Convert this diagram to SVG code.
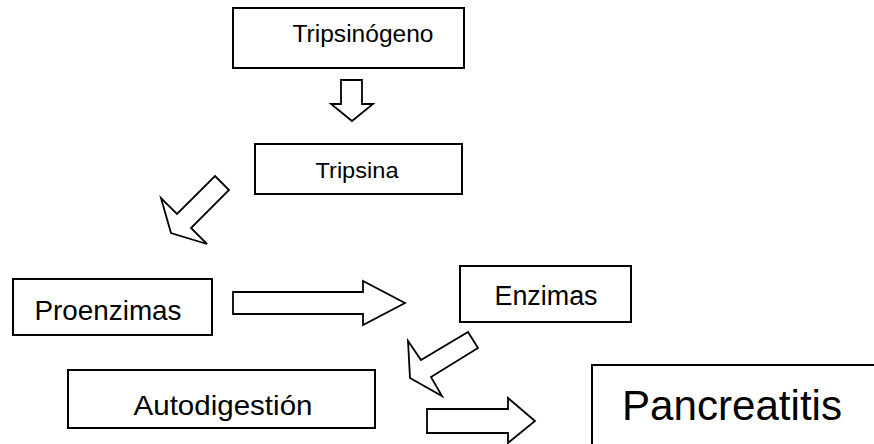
<svg xmlns="http://www.w3.org/2000/svg" width="874" height="444" viewBox="0 0 874 444">
<style>
.box{fill:#fff;stroke:#000;stroke-width:2}
.arr{fill:#fff;stroke:#000;stroke-width:1.8;stroke-linejoin:miter}
text{font-family:"Liberation Sans",Arial,sans-serif;fill:#000;text-anchor:middle}
</style>
<rect width="874" height="444" fill="#fff"/>
<g id="connectors">
<polygon class="arr" points="341,80 362,80 362,104 373,104 352,121 331,104 341,104"/>
<polygon class="arr" points="215,176 229,190 191,228 207,244 171,233 161,198 177,214"/>
<polygon class="arr" points="233,292 363,292 363,281 405,303 363,325 363,314 233,314"/>
<polygon class="arr" points="468,332 478,348 431,377 442,396 410,378 408,341 421,360"/>
<polygon class="arr" points="427,409 508,409 508,398 535,421 508,443 508,433 427,433"/>
</g>
<g id="tripsinogeno">
<rect class="box" x="233" y="8" width="231" height="60"/>
<text x="363" y="42" font-size="23" textLength="141" lengthAdjust="spacingAndGlyphs">Tripsinógeno</text>
</g>
<g id="tripsina">
<rect class="box" x="255" y="144" width="207" height="50"/>
<text x="357" y="178" font-size="22" textLength="83" lengthAdjust="spacingAndGlyphs">Tripsina</text>
</g>
<g id="proenzimas">
<rect class="box" x="13" y="279" width="199" height="56"/>
<text x="108" y="320" font-size="28" textLength="147" lengthAdjust="spacingAndGlyphs">Proenzimas</text>
</g>
<g id="enzimas">
<rect class="box" x="460" y="266" width="171" height="56"/>
<text x="546" y="305" font-size="27" textLength="103" lengthAdjust="spacingAndGlyphs">Enzimas</text>
</g>
<g id="autodigestion">
<rect class="box" x="68" y="370" width="307" height="58"/>
<text x="223" y="415" font-size="28" textLength="179" lengthAdjust="spacingAndGlyphs">Autodigestión</text>
</g>
<g id="pancreatitis">
<rect class="box" x="592" y="365" width="300" height="100"/>
<text x="732" y="420" font-size="43" textLength="220" lengthAdjust="spacingAndGlyphs">Pancreatitis</text>
</g>
</svg>
